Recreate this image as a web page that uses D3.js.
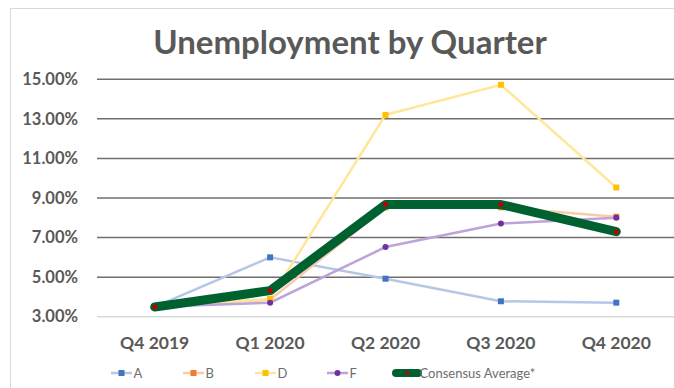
<!DOCTYPE html>
<html>
<head>
<meta charset="utf-8">
<script src="https://cdn.jsdelivr.net/npm/d3@7"></script>
<style>
  body { margin: 0; background: #fff; }
  svg text { font-family: Lato, "Open Sans", sans-serif; }
</style>
</head>
<body>
<div id="chart"></div>
<script>
// chart values
const quarters = ['Q4 2019', 'Q1 2020', 'Q2 2020', 'Q3 2020', 'Q4 2020'];
const seriesA = [3.5, 6.0, 4.92, 3.78, 3.71];
const seriesB = [3.5, 3.86, 8.53, 8.53, 8.05];
const seriesD = [3.5, 3.9, 13.2, 14.72, 9.53];
const seriesF = [3.5, 3.71, 6.52, 7.71, 8.0];
const consensus = [3.49, 4.32, 8.67, 8.67, 7.3];
const yTicks = [3, 5, 7, 9, 11, 13, 15];

const series = [
  {name: 'A', values: seriesA, line: '#b4c7e7', marker: '#4472c4', shape: 'square'},
  {name: 'B', values: seriesB, line: '#f8cbad', marker: '#ed7d31', shape: 'square'},
  {name: 'D', values: seriesD, line: '#ffe699', marker: '#ffc000', shape: 'square'},
  {name: 'F', values: seriesF, line: '#bca4d8', marker: '#7030a0', shape: 'circle'}
];

const width = 674, height = 388;
const margin = {top: 79, right: 0, bottom: 71, left: 97};

const svg = d3.select('#chart').append('svg')
    .attr('width', width)
    .attr('height', height);

// chart frame
svg.append('rect')
    .attr('x', 10.5).attr('y', 8.5)
    .attr('width', 700).attr('height', 400)
    .attr('fill', 'none')
    .attr('stroke', '#d9d9d9');

svg.append('text')
    .attr('x', 350).attr('y', 54)
    .attr('text-anchor', 'middle')
    .attr('font-size', 33)
    .attr('font-weight', 'bold')
    .attr('fill', '#595959')
    .text('Unemployment by Quarter');

const x = d3.scalePoint()
    .domain(quarters)
    .range([margin.left, width - margin.right])
    .padding(0.5);

const y = d3.scaleLinear()
    .domain([3, 15])
    .range([height - margin.bottom - 0.3, margin.top + 0.3]);

// gridlines
svg.append('g')
  .selectAll('line')
  .data(yTicks)
  .join('line')
    .attr('x1', margin.left).attr('x2', width)
    .attr('y1', d => y(d)).attr('y2', d => y(d))
    .attr('stroke', d => d === 3 ? '#d9d9d9' : '#6f6f6f')
    .attr('stroke-width', 1.5);

svg.append('g')
  .selectAll('text')
  .data(yTicks)
  .join('text')
    .attr('x', 78)
    .attr('y', d => y(d))
    .attr('dy', '0.35em')
    .attr('text-anchor', 'end')
    .attr('font-size', 16.5)
    .attr('font-weight', 'bold')
    .attr('fill', '#595959')
    .text(d => d3.format('.2f')(d) + '%');

svg.append('g')
  .selectAll('text')
  .data(quarters)
  .join('text')
    .attr('x', d => x(d))
    .attr('y', 343)
    .attr('dy', '0.35em')
    .attr('text-anchor', 'middle')
    .attr('font-size', 17.5)
    .attr('font-weight', 'bold')
    .attr('fill', '#595959')
    .text(d => d);

const line = d3.line()
    .x((d, i) => x(quarters[i]))
    .y(d => y(d));

function drawMarker(g, shape, color, size) {
  if (shape === 'square') {
    g.append('rect')
        .attr('x', -size / 2).attr('y', -size / 2)
        .attr('width', size).attr('height', size)
        .attr('fill', color);
  } else {
    g.append('circle').attr('r', size / 2).attr('fill', color);
  }
}

series.forEach(s => {
  svg.append('path')
      .datum(s.values)
      .attr('d', line)
      .attr('fill', 'none')
      .attr('stroke', s.line)
      .attr('stroke-width', 2.5);
  s.values.forEach((v, i) => {
    const g = svg.append('g')
        .attr('transform', `translate(${x(quarters[i])},${y(v)})`);
    drawMarker(g, s.shape, s.marker, 6);
  });
});

svg.append('path')
    .datum(consensus)
    .attr('d', line)
    .attr('fill', 'none')
    .attr('stroke', '#006130')
    .attr('stroke-width', 9)
    .attr('stroke-linejoin', 'round')
    .attr('stroke-linecap', 'round');

svg.append('g')
  .selectAll('circle')
  .data(consensus)
  .join('circle')
    .attr('cx', (d, i) => x(quarters[i]))
    .attr('cy', d => y(d))
    .attr('r', 2.5)
    .attr('fill', '#c00000');

// legend
const legendItems = series.map(s => ({name: s.name, line: s.line, marker: s.marker, shape: s.shape, w: 21, sw: 2.5}))
    .concat([{name: 'Consensus Average*', line: '#006130', marker: '#c00000', shape: 'circle', w: 22, sw: 8}]);
const legendX = [111, 183, 255, 327, 396];

const legend = svg.append('g');
legendItems.forEach((d, i) => {
  const g = legend.append('g').attr('transform', `translate(${legendX[i]},373)`);
  g.append('line')
      .attr('x1', 0).attr('x2', d.w)
      .attr('stroke', d.line)
      .attr('stroke-width', d.sw)
      .attr('stroke-linecap', d.sw > 3 ? 'round' : 'butt');
  const m = g.append('g').attr('transform', `translate(${d.w / 2},0)`);
  drawMarker(m, d.shape, d.marker, d.sw > 3 ? 4 : 6);
  g.append('text')
      .attr('x', d.w + 1.5)
      .attr('dy', '0.35em')
      .attr('font-size', 13)
      .attr('fill', '#6d6d6d')
      .text(d.name);
});
</script>
</body>
</html>
